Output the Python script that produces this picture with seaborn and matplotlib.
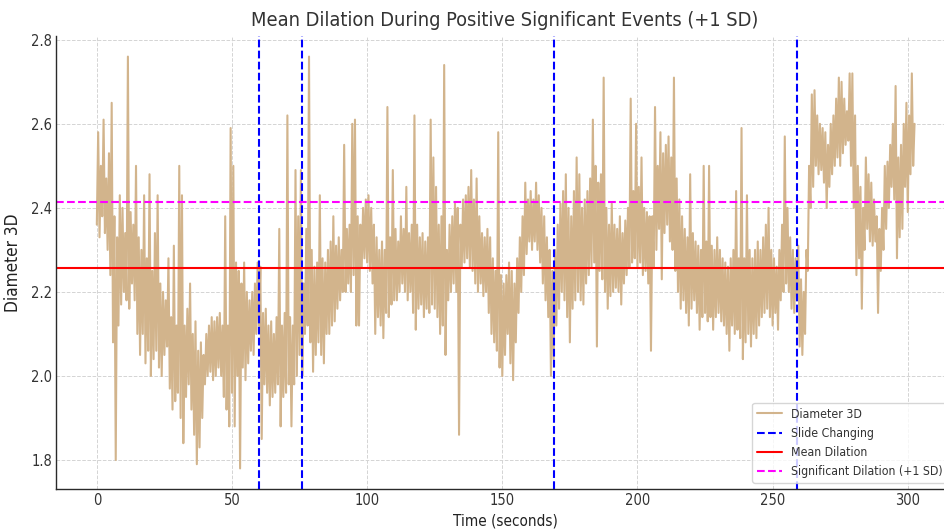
import numpy as np
import pandas as pd
import matplotlib
matplotlib.use("Agg")
import matplotlib.pyplot as plt
import seaborn as sns

# Per-second envelope of the pupil diameter trace (lowest / highest sample in each second)
band_low = [
    2.36, 2.33, 2.38, 2.34, 2.30, 2.24, 2.08, 1.80, 2.12, 2.17,
    2.20, 2.18, 2.16, 2.22, 2.18, 2.10, 2.05, 2.10, 2.03, 2.06,
    2.00, 2.04, 2.06, 2.02, 2.00, 2.05, 2.07, 1.97, 1.92, 1.94,
    1.96, 1.90, 1.84, 1.95, 1.98, 1.92, 1.86, 1.79, 1.83, 1.90,
    1.98, 2.00, 2.01, 1.99, 2.00, 2.02, 2.00, 1.95, 1.92, 1.88,
    1.96, 1.88, 2.00, 1.78, 2.02, 1.99, 2.03, 2.06, 2.05, 2.10,
    2.12, 1.85, 1.98, 1.96, 1.93, 1.95, 1.96, 1.98, 1.88, 1.95,
    1.96, 1.98, 1.88, 1.98, 2.00, 2.05, 2.00, 2.10, 2.12, 2.08,
    2.01, 2.05, 2.08, 2.05, 2.03, 2.10, 2.10, 2.12, 2.13, 2.16,
    2.18, 2.20, 2.20, 2.22, 2.20, 2.24, 2.12, 2.12, 2.26, 2.28,
    2.27, 2.25, 2.22, 2.10, 2.14, 2.12, 2.09, 2.15, 2.14, 2.17,
    2.18, 2.18, 2.20, 2.22, 2.20, 2.18, 2.20, 2.15, 2.11, 2.16,
    2.17, 2.14, 2.16, 2.15, 2.17, 2.16, 2.14, 2.10, 2.12, 2.05,
    2.18, 2.20, 2.22, 2.20, 1.86, 2.26, 2.27, 2.28, 2.26, 2.25,
    2.22, 2.20, 2.22, 2.19, 2.20, 2.15, 2.10, 2.08, 2.06, 2.02,
    2.00, 2.05, 2.10, 2.03, 1.99, 2.08, 2.15, 2.20, 2.24, 2.29,
    2.32, 2.30, 2.32, 2.30, 2.27, 2.22, 2.18, 2.14, 2.00, 2.04,
    2.12, 2.16, 2.20, 2.18, 2.14, 2.08, 2.16, 2.18, 2.20, 2.18,
    2.17, 2.22, 2.24, 2.26, 2.27, 2.07, 2.25, 2.23, 2.20, 2.16,
    2.19, 2.20, 2.21, 2.20, 2.17, 2.22, 2.24, 2.26, 2.27, 2.28,
    2.26, 2.27, 2.24, 2.25, 2.22, 2.06, 2.26, 2.30, 2.35, 2.23,
    2.34, 2.36, 2.32, 2.30, 2.25, 2.20, 2.16, 2.18, 2.15, 2.12,
    2.16, 2.18, 2.15, 2.11, 2.14, 2.15, 2.13, 2.14, 2.11, 2.14,
    2.15, 2.13, 2.12, 2.10, 2.06, 2.12, 2.10, 2.11, 2.09, 2.04,
    2.08, 2.10, 2.07, 2.10, 2.09, 2.12, 2.14, 2.15, 2.16, 2.14,
    2.12, 2.15, 2.11, 2.18, 2.20, 2.22, 2.20, 2.16, 2.15, 2.18,
    2.07, 2.05, 2.10, 2.25, 2.40, 2.45, 2.50, 2.48, 2.49, 2.46,
    2.40, 2.45, 2.48, 2.50, 2.52, 2.50, 2.53, 2.55, 2.56, 2.50,
    2.40, 2.24, 2.28, 2.16, 2.30, 2.35, 2.32, 2.31, 2.32, 2.15,
    2.25, 2.30, 2.35, 2.40, 2.45, 2.42, 2.28, 2.33, 2.35, 2.45,
    2.39, 2.48, 2.50,
]
band_high = [
    2.58, 2.50, 2.61, 2.47, 2.53, 2.65, 2.38, 2.33, 2.43, 2.40,
    2.34, 2.76, 2.39, 2.36, 2.50, 2.33, 2.30, 2.43, 2.28, 2.48,
    2.25, 2.34, 2.43, 2.22, 2.20, 2.18, 2.28, 2.14, 2.31, 2.12,
    2.50, 2.43, 2.12, 2.16, 2.22, 2.10, 2.13, 2.06, 2.08, 2.05,
    2.10, 2.12, 2.14, 2.13, 2.14, 2.15, 2.12, 2.38, 2.12, 2.59,
    2.50, 2.27, 2.25, 2.22, 2.27, 2.20, 2.18, 2.20, 2.22, 2.27,
    2.26, 2.15, 2.16, 2.12, 2.13, 2.10, 2.14, 2.35, 2.12, 2.15,
    2.62, 2.14, 2.12, 2.49, 2.38, 2.49, 2.22, 2.35, 2.76, 2.30,
    2.26, 2.27, 2.43, 2.28, 2.27, 2.30, 2.32, 2.38, 2.31, 2.33,
    2.30, 2.55, 2.35, 2.36, 2.60, 2.61, 2.38, 2.36, 2.40, 2.42,
    2.43, 2.40, 2.36, 2.33, 2.30, 2.32, 2.30, 2.64, 2.33, 2.49,
    2.35, 2.32, 2.38, 2.35, 2.45, 2.34, 2.36, 2.62, 2.36, 2.33,
    2.34, 2.32, 2.33, 2.61, 2.52, 2.45, 2.36, 2.38, 2.74, 2.30,
    2.36, 2.38, 2.41, 2.40, 2.36, 2.42, 2.43, 2.45, 2.49, 2.42,
    2.47, 2.38, 2.34, 2.33, 2.35, 2.33, 2.28, 2.25, 2.58, 2.24,
    2.22, 2.24, 2.27, 2.25, 2.22, 2.28, 2.33, 2.38, 2.46, 2.42,
    2.44, 2.42, 2.46, 2.43, 2.40, 2.38, 2.33, 2.30, 2.25, 2.30,
    2.36, 2.41, 2.44, 2.48, 2.40, 2.38, 2.44, 2.52, 2.48, 2.40,
    2.42, 2.44, 2.47, 2.61, 2.50, 2.46, 2.48, 2.71, 2.40, 2.36,
    2.41, 2.36, 2.35, 2.38, 2.34, 2.37, 2.40, 2.66, 2.44, 2.60,
    2.45, 2.52, 2.40, 2.39, 2.38, 2.38, 2.64, 2.50, 2.58, 2.53,
    2.55, 2.57, 2.52, 2.71, 2.47, 2.42, 2.38, 2.35, 2.33, 2.48,
    2.34, 2.32, 2.31, 2.30, 2.50, 2.32, 2.50, 2.31, 2.30, 2.33,
    2.30, 2.28, 2.27, 2.26, 2.28, 2.30, 2.44, 2.28, 2.59, 2.28,
    2.43, 2.30, 2.28, 2.30, 2.32, 2.30, 2.33, 2.36, 2.40, 2.30,
    2.28, 2.26, 2.30, 2.36, 2.57, 2.40, 2.33, 2.30, 2.28, 2.31,
    2.23, 2.20, 2.30, 2.50, 2.67, 2.68, 2.62, 2.60, 2.59, 2.58,
    2.55, 2.60, 2.62, 2.66, 2.71, 2.70, 2.66, 2.63, 2.72, 2.72,
    2.62, 2.50, 2.45, 2.40, 2.52, 2.48, 2.46, 2.42, 2.38, 2.35,
    2.40, 2.50, 2.51, 2.55, 2.60, 2.69, 2.52, 2.55, 2.60, 2.65,
    2.62, 2.72, 2.60,
]

slide_changes = [60, 76, 169, 259]
mean_dilation = 2.256
significant_dilation = 2.414

# Interleave lows and highs at half-second steps to form the raw trace
seconds = np.arange(len(band_low))
trace = pd.DataFrame({
    "Time (seconds)": np.column_stack([seconds, seconds + 0.5]).ravel(),
    "Diameter 3D": np.column_stack([band_low, band_high]).ravel(),
})

sns.set_style("whitegrid")
plt.rcParams["font.family"] = ["DejaVu Sans"]
plt.rcParams["font.stretch"] = "condensed"

fig = plt.figure(figsize=(9.44, 5.29), dpi=100)
ax = fig.add_axes([56 / 944, 40 / 529, 898 / 944, 453 / 529])

sns.lineplot(data=trace, x="Time (seconds)", y="Diameter 3D", color="tan",
             linewidth=1.5, estimator=None, sort=False, label="Diameter 3D", ax=ax)

for i, t in enumerate(slide_changes):
    ax.axvline(t, color="blue", linestyle="--", linewidth=1.5,
               label="Slide Changing" if i == 0 else None)
ax.axhline(mean_dilation, color="red", linestyle="-", linewidth=1.5, label="Mean Dilation")
ax.axhline(significant_dilation, color="magenta", linestyle="--", linewidth=1.5,
           label="Significant Dilation (+1 SD)")

ax.set_xlim(-15.1, 317.1)
ax.set_ylim(1.731, 2.809)
ax.set_xticks([0, 50, 100, 150, 200, 250, 300])
ax.set_yticks([1.8, 2.0, 2.2, 2.4, 2.6, 2.8])
ax.set_yticklabels(["1.8", "2.0", "2.2", "2.4", "2.6", "2.8"])

ax.grid(True, color="#d4d4d4", linestyle="--", linewidth=0.7)
for side in ("top", "right"):
    ax.spines[side].set_visible(False)
for side in ("left", "bottom"):
    ax.spines[side].set_color("#2a2a2a")
    ax.spines[side].set_linewidth(1.0)
ax.tick_params(axis="both", labelsize=10.5, colors="#333333", length=0, pad=3)

ax.set_title("Mean Dilation During Positive Significant Events (+1 SD)",
             fontsize=14.3, color="#333333", pad=7)
ax.set_xlabel("Time (seconds)", fontsize=11, color="#222222", labelpad=4)
ax.set_ylabel("Diameter 3D", fontsize=12.3, color="#222222", labelpad=6)

leg = ax.legend(loc="lower right", fontsize=8.8, frameon=True, framealpha=0.8)
for text in leg.get_texts():
    text.set_color("#333333")

fig.savefig("out.png", dpi=100)
